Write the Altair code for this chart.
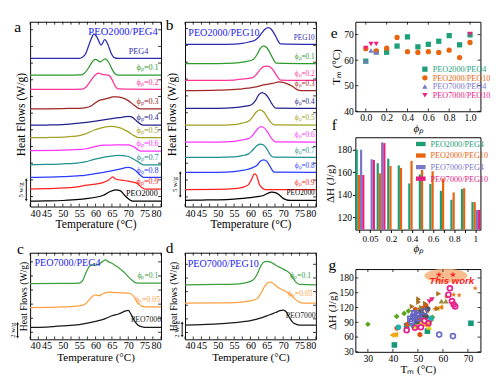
import altair as alt
import pandas as pd

SERIF = "Liberation Serif"
HEAD_BLUE = "#2323f0"
T_TICKS = [40, 42.5, 45, 47.5, 50, 52.5, 55, 57.5, 60, 62.5, 65, 67.5, 70, 72.5, 75, 77.5, 80]

# ---------------- panel a : PEO2000/PEG4 (heat flow, W/g above each baseline) ----------------
A_LABELS = ["PEG4", "ϕₚ=0.1", "ϕₚ=0.2", "ϕₚ=0.3", "ϕₚ=0.4", "ϕₚ=0.5",
            "ϕₚ=0.6", "ϕₚ=0.7", "ϕₚ=0.8", "ϕₚ=0.9", "PEO2000"]
A_COLORS = ["#2b2bb0", "#2e9a2e", "#ff3399", "#a02626", "#22228e", "#a3a022",
            "#ff33ff", "#1f9090", "#2a3cff", "#ff2020", "#000000"]
A_OFFSETS = [35.1, 31.1, 27.7, 23.0, 19.1, 16.1, 13.0, 9.6, 6.6, 3.8, 0.9]
A_LAB_T = [76.1, 79.3, 79.3, 79.3, 79.3, 79.3, 79.3, 79.3, 79.3, 79.3, 79.0]
A_YTICKS = [2, 6, 10, 14, 18, 22, 26, 30, 34, 38, 42]
A_TEMPS = [
    [40, 50, 55, 56, 57, 58, 59, 59.5, 60.5, 61.7, 62.8, 63.8, 64.8, 65.7, 67, 80],
    [40, 50, 55.5, 56.5, 57.5, 58.5, 59.3, 60, 61.4, 62.9, 64, 65, 66, 67, 80],
    [40, 50, 56, 57, 58, 59, 60, 60.8, 62, 63, 64, 65, 66, 67, 80],
    [40, 50, 55, 57, 58.6, 60, 61, 62.4, 64, 65.2, 66.5, 68, 70, 71.8, 73.7, 80],
    [40, 45, 50, 55, 60, 65, 68, 70, 71, 72, 73, 74, 75, 80],
    [40, 45, 50, 55, 56.7, 58, 59.5, 61, 62.4, 64.7, 67, 68.5, 70, 71.8, 73.2, 80],
    [40, 50, 55, 56.7, 59.5, 62.4, 65, 68, 70, 71.8, 73.7, 80],
    [40, 45, 50, 55, 56.7, 59.5, 62.4, 67, 70, 71.8, 73.7, 74.6, 80],
    [40, 45, 50, 55, 56.7, 62.4, 67, 70, 71.8, 73.7, 74.6, 80],
    [40, 45, 50, 55, 56.7, 62.4, 64.2, 65.2, 66.1, 70, 72.7, 74.2, 75.1, 80],
    [40, 45, 50, 55, 56.7, 62.4, 64.2, 66.1, 67.5, 69, 70.4, 71.3, 80],
]
A_VALUES = [
    [0, 0, 0.05, 0.3, 1.2, 3.3, 5.3, 5.9, 5.0, 3.2, 4.5, 3.3, 1.2, 0.2, 0, 0],
    [0, 0, 0.05, 0.4, 1.3, 2.6, 3.5, 3.8, 3.2, 3.9, 3.1, 1.5, 0.3, 0, 0],
    [0, 0, 0.05, 0.5, 1.5, 2.6, 3.5, 3.9, 3.6, 3.5, 3.4, 2.4, 0.8, 0.1, 0],
    [0, 0.1, 0.15, 0.3, 0.7, 1.5, 2.0, 2.3, 2.6, 2.9, 2.9, 2.7, 2.0, 0.9, 0, 0],
    [0, 0.05, 0.15, 0.5, 1.0, 1.6, 1.9, 2.1, 2.0, 1.4, 0.7, 0.15, 0, 0],
    [0, 0.05, 0.15, 0.5, 0.85, 1.3, 1.8, 2.2, 2.5, 2.7, 2.5, 2.0, 1.4, 0.5, 0, 0],
    [0, 0.1, 0.3, 0.4, 0.9, 1.3, 1.35, 1.4, 1.4, 0.9, -0.1, -0.1],
    [0, 0.1, 0.25, 0.5, 0.7, 1.3, 1.8, 2.3, 2.0, 1.3, 0.35, 0, 0],
    [0, 0.05, 0.15, 0.4, 0.5, 1.2, 1.9, 2.4, 1.9, 0.5, 0, 0],
    [0, 0.1, 0.25, 0.6, 0.85, 1.6, 2.3, 2.9, 2.4, 1.9, 1.35, 0.35, 0, 0],
    [0, 0.05, 0.15, 0.4, 0.55, 1.4, 2.2, 2.7, 2.5, 1.3, 0.35, 0, 0],
]

# ---------------- panel b : PEO2000/PEG10 ----------------
B_LABELS = ["PEG10", "ϕₚ=0.1", "ϕₚ=0.2", "ϕₚ=0.3", "ϕₚ=0.4", "ϕₚ=0.5",
            "ϕₚ=0.6", "ϕₚ=0.7", "ϕₚ=0.8", "ϕₚ=0.9", "PEO2000"]
B_COLORS = A_COLORS
B_OFFSETS = [33.7, 29.7, 26.2, 24.1, 20.4, 16.9, 13.4, 10.2, 7.1, 3.5, 1.3]
B_LAB_T = [79.6] * 11
B_YTICKS = [2, 5.5, 9, 12.5, 16, 19.5, 23, 26.5, 30, 33.5, 37]
B_TEMPS = [
    [40, 50, 55, 57.4, 59.5, 61.2, 62.5, 63.5, 64.5, 65.4, 66.3, 67.3, 68.2, 69.2, 80],
    [40, 50, 55, 58, 60.7, 62, 63, 64, 65, 66, 67, 67.8, 80],
    [40, 50, 55, 58, 60.7, 62, 63, 64, 65, 66, 67, 68, 69.2, 80],
    [40, 50, 56.5, 61.2, 64, 66.8, 68.7, 70, 71.5, 72.5, 73.4, 74.4, 75.5, 80],
    [40, 50, 55, 58, 60.2, 61.5, 62.5, 63.5, 64.5, 65.5, 66.5, 67.8, 80],
    [40, 50, 55, 57.5, 59.3, 60.5, 61.7, 62.9, 64, 65, 66.2, 67.3, 80],
    [40, 50, 55, 57.5, 59.8, 61, 62, 63.2, 64.3, 65.3, 66.5, 67.6, 80],
    [40, 50, 55, 57.5, 59.3, 60.5, 61.7, 62.9, 64, 65, 66, 67, 80],
    [40, 50, 55, 58, 60.7, 62, 63, 64, 65, 66, 67.3, 80],
    [40, 50, 55, 56.9, 58, 59.3, 60.2, 61.2, 61.9, 62.6, 63.5, 64.5, 80],
    [40, 45, 50, 55, 60, 62, 64, 65, 66.5, 68, 69, 70, 71, 72, 80],
]
B_VALUES = [
    [0, 0, 0.05, 0.2, 0.5, 0.8, 1.5, 2.4, 3.2, 3.5, 3.2, 2.2, 1.0, 0.1, 0],
    [0, 0, 0.1, 0.35, 0.8, 1.9, 3.2, 3.7, 3.3, 2.2, 0.9, 0.1, 0],
    [0, 0, 0.1, 0.35, 0.6, 1.4, 2.3, 2.9, 3.0, 2.8, 2.1, 1.0, 0.1, 0],
    [0, 0.1, 0.3, 0.7, 1.2, 1.5, 1.8, 1.7, 1.35, 1.0, 0.6, 0.15, 0, 0],
    [0, 0, 0.15, 0.4, 0.7, 1.6, 2.8, 3.3, 3.0, 2.2, 1.0, 0.05, 0],
    [0, 0, 0.15, 0.45, 0.8, 1.6, 2.7, 3.2, 2.8, 1.8, 0.6, 0.05, 0],
    [0, 0, 0.15, 0.45, 0.85, 1.7, 2.6, 3.2, 2.9, 2.0, 0.7, 0.05, 0],
    [0, 0, 0.1, 0.4, 0.7, 1.4, 2.3, 2.8, 2.6, 1.8, 0.6, 0.05, 0],
    [0, 0, 0.15, 0.45, 1.0, 1.5, 2.3, 2.6, 2.3, 1.2, 0.05, 0],
    [0, 0.05, 0.2, 0.4, 0.6, 1.0, 1.95, 3.3, 2.9, 1.3, 0.4, 0, 0],
    [0, 0.05, 0.1, 0.25, 0.55, 0.75, 1.0, 1.35, 1.7, 1.5, 1.0, 0.4, 0.1, 0, 0],
]

# ---------------- panel c : PEO7000/PEG4 ----------------
C_LABELS = ["ϕₚ=0.1", "ϕₚ=0.05", "PEO7000"]
C_COLORS = ["#3c9e3c", "#ffa040", "#1a1a1a"]
C_OFFSETS = [7.9, 4.5, 1.7]
C_LAB_T = [79.2, 79.7, 80.0]
C_YTICKS = [1, 3, 5, 7, 9, 11]
C_TEMPS = [
    [40, 50, 55, 56, 57, 58, 59, 60, 61, 62, 63, 64, 65, 66, 67, 68, 69, 70, 71, 72, 73, 80],
    [40, 50, 55, 57, 58, 59, 60, 61, 62, 63, 64, 66, 68, 70, 71, 72, 73, 74, 75, 80],
    [40, 45, 50, 55, 60, 63, 65, 67, 68, 69, 70, 71, 72, 73, 74, 75, 80],
]
C_VALUES = [
    [0, 0.05, 0.1, 0.4, 1.5, 2.4, 2.7, 2.6, 2.8, 3.1, 3.4, 3.1, 2.9, 2.6, 2.3, 1.9, 1.5, 1.0, 0.55, 0.2, 0.1, 0.1],
    [0, 0.1, 0.25, 0.55, 1.1, 1.6, 1.8, 1.7, 1.9, 2.1, 2.2, 2.15, 2.1, 2.05, 1.9, 1.4, 0.6, 0.25, 0.1, 0.1],
    [0, 0.05, 0.2, 0.4, 0.85, 1.25, 1.65, 1.9, 2.1, 2.3, 2.4, 1.7, 0.85, 0.3, 0.1, 0, 0],
]

# ---------------- panel d : PEO7000/PEG10 ----------------
D_LABELS = ["ϕₚ=0.1", "ϕₚ=0.05", "PEO7000"]
D_COLORS = C_COLORS
D_OFFSETS = [8.0, 5.3, 2.1]
D_LAB_T = [78.5, 79.0, 79.9]
D_YTICKS = [1, 3, 5, 7, 9, 11]
D_TEMPS = [
    [40, 50, 55, 58, 60, 61, 62, 63, 64, 65, 66, 67, 68, 69, 70, 71, 72, 73, 74, 75, 80],
    [40, 50, 55, 60, 62, 63, 64, 65, 66, 67, 68, 69, 70, 71, 72, 73, 74, 75, 76, 80],
    [40, 45, 50, 55, 60, 63, 65, 67, 68, 69, 70, 71, 72, 73, 74, 75, 80],
]
D_VALUES = [
    [0, 0.05, 0.1, 0.25, 0.5, 0.8, 1.5, 2.6, 3.3, 3.45, 3.35, 3.1, 2.8, 2.55, 2.3, 2.05, 1.7, 1.0, 0.35, 0.05, 0],
    [0, 0.05, 0.1, 0.35, 0.65, 1.3, 2.2, 2.9, 3.1, 2.9, 2.45, 2.15, 1.9, 1.65, 1.35, 0.9, 0.45, 0.15, 0, 0],
    [0, 0.05, 0.15, 0.35, 0.65, 1.0, 1.35, 1.7, 1.9, 2.1, 2.2, 1.9, 1.0, 0.35, 0.1, 0, 0],
]

# ---------------- panel e : Tm vs phi ----------------
E_SERIES = ["PEO2000/PEO4", "PEO2000/PEO10", "PEO7000/PEO4", "PEO7000/PEO10"]
E_COLORS = ["#1f9e7a", "#e8650e", "#7b78c8", "#ee2080"]
E_SHAPES = ["square", "circle", "triangle-up", "triangle-down"]
E_XTICKS = [0, 0.2, 0.4, 0.6, 0.8, 1.0]
E_YTICKS = [40, 50, 60, 70]
E_PHI = [
    [0.0, 0.1, 0.2, 0.3, 0.4, 0.5, 0.6, 0.7, 0.8, 0.9, 1.0],
    [0.0, 0.1, 0.2, 0.3, 0.4, 0.5, 0.6, 0.7, 0.8, 0.9, 1.0],
    [0.0, 0.05, 0.1],
    [0.0, 0.05, 0.1, 1.0],
]
E_TM = [
    [59.6, 63.2, 63.1, 65.5, 69.1, 65.2, 66.2, 67.4, 69.6, 66.0, 69.9],
    [64.5, 63.6, 64.7, 68.9, 63.3, 63.0, 63.3, 63.0, 63.9, 61.0, 66.9],
    [59.7, 63.8, 63.1],
    [64.7, 66.3, 66.3, 70.2],
]

# ---------------- panel f : enthalpy bars ----------------
F_CATS = ["0", "0.05", "0.1", "0.2", "0.3", "0.4", "0.5", "0.6", "0.7", "0.8", "0.9", "1"]
F_SHOWN = ["0.05", "0.2", "0.4", "0.6", "0.8", "1"]
F_SERIES = ["PEO2000/PEG4", "PEO2000/PEG10", "PEO7000/PEG4", "PEO7000/PEG10"]
F_COLORS = ["#1f9e76", "#e8640e", "#7b78c8", "#e61e82"]
F_CAT_OF = [
    ["0", "0.1", "0.2", "0.3", "0.4", "0.5", "0.6", "0.7", "0.8", "0.9", "1"],
    ["0", "0.1", "0.2", "0.3", "0.4", "0.5", "0.6", "0.7", "0.8", "0.9", "1"],
    ["0", "0.05", "0.1", "1"],
    ["0", "0.05", "0.1", "1"],
]
F_DH = [
    [180, 168, 172, 166, 150, 158, 149.5, 143.5, 135.5, 145, 133.5],
    [157.5, 159, 165.5, 163.8, 170, 162, 160.8, 154.5, 142, 145.8, 133.5],
    [180, 171.5, 186.5, 126.5],
    [157.5, 170.8, 185.8, 126.5],
]

# ---------------- panel g : literature comparison ----------------
G_SETS = ["dia", "sq", "tl", "hex", "oc", "osq", "mc", "star", "tr", "gc", "td", "tu", "cy", "yel"]
STAR_PATH = "M0,-1L0.2245,-0.309L0.951,-0.309L0.363,0.118L0.588,0.809L0,0.382L-0.588,0.809L-0.363,0.118L-0.951,-0.309L-0.2245,-0.309Z"
HEX_PATH = "M0,-1L0.866,-0.5L0.866,0.5L0,1L-0.866,0.5L-0.866,-0.5Z"
ELLIPSE_PATH = "M-1,0A1,0.32 0 1,0 1,0A1,0.32 0 1,0 -1,0Z"
G_SHAPES = ["diamond", "square", "triangle-left", HEX_PATH, "circle", "square", "circle",
            STAR_PATH, "triangle-right", "circle", "triangle-down", "triangle-up", "circle", "triangle-up"]
G_COLORS = ["#5aa51e", "#17987a", "#f0a818", "#e0520f", "#6e6ec8", "#6464c4", "#e8208c",
            "#ea7418", "#a8701e", "#555555", "#e8207e", "#9a8a3a", "#20b0b0", "#e8d000"]
G_OPEN = ["oc", "osq", "mc"]
G_XTICKS = [30, 40, 50, 60, 70]
G_YTICKS = [30, 60, 90, 120, 150, 180]
G_T = [
    [30, 41.5, 44.5, 46.2, 55.2, 55.8],
    [40.6, 53.8, 71.2, 45.5],
    [39.6, 40.4, 41.2, 54, 52.8, 57.6, 59, 48.5, 50.2, 53.5],
    [50.8, 41.6, 45.8, 49, 51.8, 53.2, 50.6],
    [58.5, 64],
    [47, 48.2, 49.6, 48.6, 47.6, 50.4, 52.5],
    [45.5, 62.8, 62.2, 63.6, 64.3, 64.9, 51.2, 52.6, 48.8, 54.2],
    [72.9, 64.3, 66.5, 61.4, 59.6, 56.8, 55.5],
    [47.7, 50.3, 50.3, 58.3, 57.9, 53],
    [53.9, 53.3, 51.2, 49.6, 52],
    [55.6, 54.6],
    [59.4, 61.2, 50.8],
    [42.2, 48, 55.2],
    [54.5, 49.3, 52],
]
G_DH = [
    [86, 102, 108, 113, 94, 100],
    [44, 72, 88, 83],
    [64, 64.5, 65, 86, 84, 118, 121, 85, 88, 113],
    [65, 78, 86, 116, 118, 124, 99],
    [65, 62],
    [97, 101, 104, 108, 92, 98, 112],
    [74, 159, 146, 133, 126, 122, 80, 93, 79, 88],
    [159, 146, 145, 142, 120, 117, 96],
    [122, 137, 131, 148, 118, 128],
    [117, 101, 113, 91, 105],
    [136, 132],
    [133, 133, 121],
    [80, 84, 98],
    [80, 82, 90],
]
THIS_WORK_T = [58.4, 64.0]
THIS_WORK_DH = [186.5, 186.5]
HALO_T = [61.2]
HALO_DH = [184.5]


def letter_layer(ch, dx, dy):
    return alt.Chart(pd.DataFrame({"t": [ch]})).mark_text(
        font=SERIF, fontSize=16, align="center", baseline="middle", color="black"
    ).encode(text="t:N", x=alt.value(dx), y=alt.value(dy))


def tick_layers(xf, xvals, yf, yvals, width, height, ln=3):
    """Inward ticks on all four sides of a panel (tick values come from the lists)."""
    xdf = pd.DataFrame({xf: xvals})
    ydf = pd.DataFrame({yf: yvals})
    xe = alt.X(xf + ":Q", axis=None)
    ye = alt.Y(yf + ":Q", axis=None)
    bottom = alt.Chart(xdf).mark_rule(color="black", strokeWidth=0.8).encode(
        x=xe, y=alt.value(height), y2=alt.value(height - ln))
    top = alt.Chart(xdf).mark_rule(color="black", strokeWidth=0.8).encode(
        x=xe, y=alt.value(0), y2=alt.value(ln))
    left = alt.Chart(ydf).mark_rule(color="black", strokeWidth=0.8).encode(
        y=ye, x=alt.value(0), x2=alt.value(ln))
    right = alt.Chart(ydf).mark_rule(color="black", strokeWidth=0.8).encode(
        y=ye, x=alt.value(width), x2=alt.value(width - ln))
    return [bottom, top, left, right]


def dsc_panel(labels, colors, offsets, temps, values, lab_t, ydom, yticks, width, height,
              head, head_t, head_y, head_align, head_size, lab_size, lab_dy,
              letter, let_dx, let_dy, bar_lo, bar_hi, bar_text, bar_dx, ytitle_size, ytitle_pad,
              xtitle_size):
    rows = []
    for i in range(len(labels)):
        for t, v in zip(temps[i], values[i]):
            rows.append({"curve": i, "T": t, "hf": offsets[i] + v, "col": colors[i]})
    df = pd.DataFrame(rows)
    dfl = pd.DataFrame({"T": lab_t, "hf": offsets, "lab": labels, "col": colors})
    xsc = alt.Scale(domain=[40, 80], nice=False)
    ysc = alt.Scale(domain=ydom, nice=False, zero=False)
    lines = alt.Chart(df).mark_line(strokeWidth=1.3, interpolate="monotone").encode(
        x=alt.X("T:Q", scale=xsc, axis=alt.Axis(
            values=T_TICKS, labelExpr="datum.value % 5 == 0 ? datum.label : ''",
            title="Temperature (°C)", labelFontSize=10.5, titleFontSize=xtitle_size, ticks=False,
            domain=False, labelPadding=2, titlePadding=0, titleFontWeight="normal")),
        y=alt.Y("hf:Q", scale=ysc, axis=alt.Axis(
            labels=False, ticks=False, domain=False, title="Heat Flows (W/g)",
            titleFontSize=ytitle_size, titlePadding=ytitle_pad, titleFontWeight="normal")),
        color=alt.Color("col:N", scale=None),
        detail="curve:N",
    )
    labs = alt.Chart(dfl).mark_text(font=SERIF, fontSize=lab_size, align="right",
                                    baseline="middle", dy=lab_dy).encode(
        x=alt.X("T:Q", axis=None), y=alt.Y("hf:Q", axis=None), text="lab:N",
        color=alt.Color("col:N", scale=None))
    hd = alt.Chart(pd.DataFrame({"T": [head_t], "hf": [head_y], "t": [head]})).mark_text(
        font=SERIF, fontSize=head_size, align=head_align, baseline="middle", color=HEAD_BLUE
    ).encode(x=alt.X("T:Q", axis=None), y=alt.Y("hf:Q", axis=None), text="t:N")
    bar_df = pd.DataFrame({"hf": [bar_lo], "hf2": [bar_hi], "mid": [(bar_lo + bar_hi) / 2], "t": [bar_text]})
    bar = alt.Chart(bar_df).mark_rule(color="black", strokeWidth=1).encode(
        x=alt.value(bar_dx), y=alt.Y("hf:Q", axis=None), y2="hf2:Q")
    arrow_up = alt.Chart(bar_df).mark_point(shape="triangle-up", filled=True, size=10, color="black").encode(
        x=alt.value(bar_dx), y=alt.Y("hf2:Q", axis=None))
    arrow_dn = alt.Chart(bar_df).mark_point(shape="triangle-down", filled=True, size=10, color="black").encode(
        x=alt.value(bar_dx), y=alt.Y("hf:Q", axis=None))
    bar_t = alt.Chart(bar_df).mark_text(font=SERIF, fontSize=7, angle=270, baseline="middle",
                                        align="center").encode(
        x=alt.value(bar_dx - 5), y=alt.Y("mid:Q", axis=None), text="t:N")
    layers = [lines] + tick_layers("T", T_TICKS, "hf", yticks, width, height) + [
        labs, hd, bar, arrow_up, arrow_dn, bar_t, letter_layer(letter, let_dx, let_dy)]
    return alt.layer(*layers).resolve_axis(
        x="independent", y="independent").properties(width=width, height=height)


def legend_color_expr(names, cols):
    expr = "'" + cols[-1] + "'"
    for n, c in reversed(list(zip(names[:-1], cols[:-1]))):
        expr = "datum.label == '" + n + "' ? '" + c + "' : " + expr
    return expr


W_DSC = 136
H_TOP = 192
H_BOT = 90

pa = dsc_panel(A_LABELS, A_COLORS, A_OFFSETS, A_TEMPS, A_VALUES, A_LAB_T, [-0.4, 43.9], A_YTICKS,
               W_DSC, H_TOP, "PEO2000/PEG4", 68.4, 41.4, "center", 11, 8.5, -8,
               "a", -13, 6, 1.1, 6.1, "5 w/g", -4, 12, 3, 12)
pb = dsc_panel(B_LABELS, B_COLORS, B_OFFSETS, B_TEMPS, B_VALUES, B_LAB_T, [0, 38.4], B_YTICKS,
               W_DSC, H_TOP, "PEO2000/PEG10", 41.0, 36.0, "left", 10.5, 7.5, -7,
               "b", -16, 4, 2.1, 7.1, "5 w/g", -5, 12, 7, 12)
pc = dsc_panel(C_LABELS, C_COLORS, C_OFFSETS, C_TEMPS, C_VALUES, C_LAB_T, [0, 12.3], C_YTICKS,
               W_DSC, H_BOT, "PEO7000/PEG4", 41.3, 10.8, "left", 10.5, 8, -8,
               "c", -10, -4, 0.3, 2.3, "2 w/g", -13, 10, 2, 11.5)
pd_ = dsc_panel(D_LABELS, D_COLORS, D_OFFSETS, D_TEMPS, D_VALUES, D_LAB_T, [0, 12.7], D_YTICKS,
                W_DSC, H_BOT, "PEO7000/PEG10", 40.8, 11.1, "left", 10.5, 8, -9,
                "d", -16, -5, 0.45, 2.45, "2 W/g", -3, 10, 7, 11.5)

# ---- e ----
W_R = 130
H_E = 93
e_rows = []
for s, ph, tm in zip(E_SERIES, E_PHI, E_TM):
    for p, t in zip(ph, tm):
        e_rows.append({"series": s, "phi": p, "Tm": t})
dfe = pd.DataFrame(e_rows)
e_xsc = alt.Scale(domain=[-0.1, 1.1], nice=False)
e_ysc = alt.Scale(domain=[40, 75], nice=False, zero=False)
e_leg = alt.Legend(orient="none", legendX=68, legendY=45, title=None, labelFont=SERIF,
                   labelFontSize=8.5, symbolSize=30, rowPadding=0, symbolStrokeWidth=0,
                   labelColor={"expr": legend_color_expr(E_SERIES, E_COLORS)})
e_pts = alt.Chart(dfe).mark_point(filled=True, size=30, opacity=1).encode(
    x=alt.X("phi:Q", scale=e_xsc, axis=alt.Axis(values=E_XTICKS, format=".1f", ticks=False, domain=False,
                                                title="ϕₚ", titleFontStyle="italic", labelPadding=2,
                                                titleFontWeight="normal", titlePadding=0)),
    y=alt.Y("Tm:Q", scale=e_ysc, axis=alt.Axis(values=E_YTICKS, title="Tₘ (°C)", ticks=False,
                                               domain=False, labelPadding=2, titleFontWeight="normal")),
    color=alt.Color("series:N", scale=alt.Scale(domain=E_SERIES, range=E_COLORS), legend=e_leg),
    shape=alt.Shape("series:N", scale=alt.Scale(domain=E_SERIES, range=E_SHAPES), legend=e_leg),
)
pe = alt.layer(e_pts, *tick_layers("phi", E_XTICKS, "Tm", E_YTICKS, W_R, H_E),
               letter_layer("e", -22, 12), letter_layer("f", -22, H_E + 14)).resolve_axis(
    x="independent", y="independent").properties(width=W_R, height=H_E)

# ---- f ----
H_F = 96
f_rows = []
for s, cats, vals in zip(F_SERIES, F_CAT_OF, F_DH):
    for c, v in zip(cats, vals):
        f_rows.append({"series": s, "cat": c, "dh": v})
dff = pd.DataFrame(f_rows)
f_leg = alt.Legend(orient="none", legendX=62, legendY=1, title=None, labelFont=SERIF,
                   labelFontSize=8.5, symbolType="M-1,-0.45L1,-0.45L1,0.45L-1,0.45Z",
                   symbolSize=100, rowPadding=1,
                   labelColor={"expr": legend_color_expr(F_SERIES, F_COLORS)})
shown = "[" + ",".join("'" + s + "'" for s in F_SHOWN) + "]"
f_bars = alt.Chart(dff).mark_bar().encode(
    x=alt.X("cat:N", sort=F_CATS, scale=alt.Scale(domain=F_CATS, paddingInner=0.16, paddingOuter=0.02),
            axis=alt.Axis(labelExpr="indexof(" + shown + ", datum.label) >= 0 ? datum.label : ''",
                          labelAngle=0, title="ϕₚ", titleFontStyle="italic", tickSize=3, domain=False,
                          labelFontSize=9.5, titleFontWeight="normal", titlePadding=0)),
    xOffset=alt.XOffset("series:N", sort=F_SERIES, scale=alt.Scale(domain=F_SERIES)),
    y=alt.Y("dh:Q", scale=alt.Scale(domain=[109, 191], nice=False, zero=False),
            axis=alt.Axis(values=[120, 140, 160, 180], title="ΔH (J/g)", tickSize=3, domain=False,
                          titleFontWeight="normal")),
    y2=alt.datum(109),
    color=alt.Color("series:N", scale=alt.Scale(domain=F_SERIES, range=F_COLORS), legend=f_leg),
)
pf = alt.layer(f_bars).properties(width=W_R, height=H_F)

# ---- g ----
H_G = 86
g_rows = []
for s, shp, col, ts, ds in zip(G_SETS, G_SHAPES, G_COLORS, G_T, G_DH):
    for t, d in zip(ts, ds):
        g_rows.append({"set": s, "shp": shp, "col": col, "T": t, "dh": d, "open": s in G_OPEN})
dfg = pd.DataFrame(g_rows)
g_xsc = alt.Scale(domain=[25, 75], nice=False)
g_ysc = alt.Scale(domain=[30, 198], nice=False, zero=False)
gx_none = alt.X("T:Q", axis=None)
gy_none = alt.Y("dh:Q", axis=None)
halo = alt.Chart(pd.DataFrame({"T": HALO_T, "dh": HALO_DH})).mark_point(
    shape=ELLIPSE_PATH, size=2000, filled=True, color="#f7b27a", opacity=0.85, strokeWidth=0
).encode(
    x=alt.X("T:Q", scale=g_xsc, axis=alt.Axis(values=G_XTICKS, title="Tₘ (°C)", ticks=False, domain=False,
                                              labelPadding=2, titleFontWeight="normal", titlePadding=0)),
    y=alt.Y("dh:Q", scale=g_ysc, axis=alt.Axis(values=G_YTICKS, title="ΔH (J/g)", ticks=False,
                                               domain=False, labelPadding=2, titleFontWeight="normal")),
)
g_filled = alt.Chart(dfg[~dfg["open"]]).mark_point(filled=True, size=34, opacity=1).encode(
    x=gx_none, y=gy_none, shape=alt.Shape("shp:N", scale=None), color=alt.Color("col:N", scale=None))
g_open = alt.Chart(dfg[dfg["open"]]).mark_point(filled=False, size=26, strokeWidth=1.8, opacity=1).encode(
    x=gx_none, y=gy_none, shape=alt.Shape("shp:N", scale=None), color=alt.Color("col:N", scale=None))
tw = alt.Chart(pd.DataFrame({"T": THIS_WORK_T, "dh": THIS_WORK_DH})).mark_point(
    shape=STAR_PATH, size=45, filled=True, color="#ff2020", opacity=1).encode(x=gx_none, y=gy_none)
tw_text = alt.Chart(pd.DataFrame({"T": [63.5], "dh": [173.5], "t": ["This work"]})).mark_text(
    font="Liberation Sans", fontStyle="italic", fontWeight="bold", fontSize=10, color="#ff1a1a"
).encode(x=gx_none, y=gy_none, text="t:N")
pg = alt.layer(halo, g_filled, g_open, tw, tw_text,
               *tick_layers("T", G_XTICKS, "dh", G_YTICKS, W_R, H_G),
               letter_layer("g", -24, -4)).resolve_axis(
    x="independent", y="independent").properties(width=W_R, height=H_G)

top_row = alt.hconcat(pa, pb, spacing=0)
bot_row = alt.hconcat(pc, pd_, spacing=0)
left = alt.vconcat(top_row, bot_row, spacing=10)
right = alt.vconcat(pe, pf, pg, spacing=2).resolve_scale(color="independent", shape="independent")
chart = alt.hconcat(left, right, spacing=4).resolve_scale(
    color="independent", shape="independent"
).properties(padding={"left": 0, "top": 2, "right": 0, "bottom": 0}).configure_view(
    stroke="black", strokeWidth=1
).configure_axis(
    labelFont=SERIF, titleFont=SERIF, labelFontSize=10, titleFontSize=11.5,
    titleFontWeight="normal", labelColor="black", titleColor="black", tickColor="black",
    domainColor="black", grid=False, labelPadding=1, titlePadding=2
)

chart.save("out.html", embed_options={"renderer": "svg", "actions": False})
